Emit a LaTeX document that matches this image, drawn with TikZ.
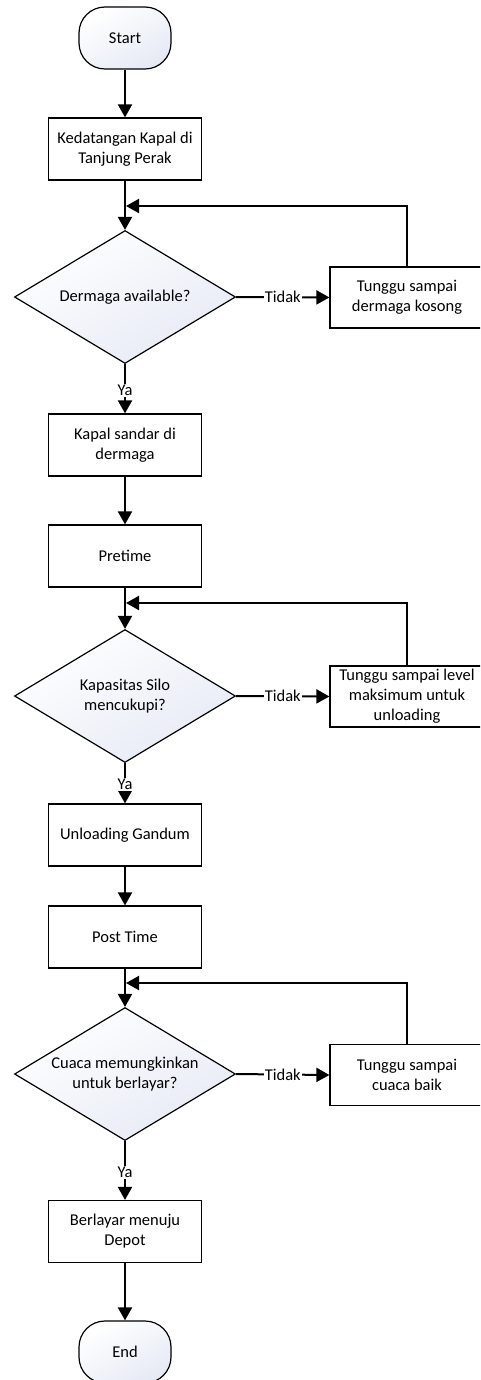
\documentclass[tikz,border=0pt]{standalone}
\usepackage{fontspec}
\setmainfont{Carlito}
\usetikzlibrary{shapes.geometric, arrows.meta}
\definecolor{shadeblue}{RGB}{230,234,245}
\begin{document}
\begin{tikzpicture}[x=1pt, y=-1pt,
  font=\fontsize{16.5}{20}\selectfont,
  base/.style={draw=black, line width=1.2pt, align=center, inner sep=2pt},
  term/.style={base, rectangle, rounded corners=26pt, minimum width=92pt,
    minimum height=62pt, top color=white, bottom color=shadeblue, shading angle=30},
  proc/.style={base, rectangle, minimum width=153pt, minimum height=62pt, fill=white},
  wait/.style={proc, minimum width=154pt, minimum height=61pt},
  decision/.style={base, diamond, minimum width=221pt, minimum height=133pt,
    inner sep=0pt, aspect=1.66, top color=white, bottom color=shadeblue, shading angle=30},
  flow/.style={line width=2pt, -{Triangle[length=13pt,width=14pt]}},
  lbl/.style={fill=white, inner sep=1pt}
]
\useasboundingbox (0,0) rectangle (480,1380);
\clip (0,0) rectangle (480,1380);

% main column
\node[term] (start) at (125,38) {Start};
\node[proc] (b1) at (125,149) {Kedatangan Kapal di\\Tanjung Perak};
\node[decision] (d1) at (125,297) {Dermaga available?};
\node[wait] (w1) at (407,297.5) {Tunggu sampai\\dermaga kosong};
\node[proc] (b2) at (125,445) {Kapal sandar di\\dermaga};
\node[proc] (b3) at (125,556) {Pretime};
\node[decision] (d2) at (125,696) {Kapasitas Silo\\mencukupi?};
\node[wait] (w2) at (407,696.5) {Tunggu sampai level\\maksimum untuk\\unloading};
\node[proc] (b4) at (125,835) {Unloading Gandum};
\node[proc] (b5) at (125,937) {Post Time};
\node[decision] (d3) at (125,1074) {Cuaca memungkinkan\\untuk berlayar?};
\node[wait] (w3) at (407,1075) {Tunggu sampai\\cuaca baik};
\node[proc] (b6) at (125,1231.5) {Berlayar menuju\\Depot};
\node[term] (end) at (125,1352) {End};

% loop-back junctions above each decision
\coordinate (j1) at (126,206);
\coordinate (j2) at (126,603);
\coordinate (j3) at (126,983);

% connectors
\draw[flow] (start) -- (b1);
\draw[flow] (b1) -- (d1);
\draw[flow] (d1.east) -- node[lbl]{Tidak} (w1.west);
\draw[flow] (w1.north) |- (j1);
\draw[flow] (d1.south) -- node[lbl, pos=0.53]{Ya} (b2.north);
\draw[flow] (b2) -- (b3);
\draw[flow] (b3) -- (d2);
\draw[flow] (d2.east) -- node[lbl]{Tidak} (w2.west);
\draw[flow] (w2.north) |- (j2);
\draw[flow] (d2.south) -- node[lbl, pos=0.53]{Ya} (b4.north);
\draw[flow] (b4) -- (b5);
\draw[flow] (b5) -- (d3);
\draw[flow] (d3.east) -- node[lbl]{Tidak} (w3.west);
\draw[flow] (w3.north) |- (j3);
\draw[flow] (d3.south) -- node[lbl, pos=0.53]{Ya} (b6.north);
\draw[flow] (b6) -- (end);
\end{tikzpicture}
\end{document}
